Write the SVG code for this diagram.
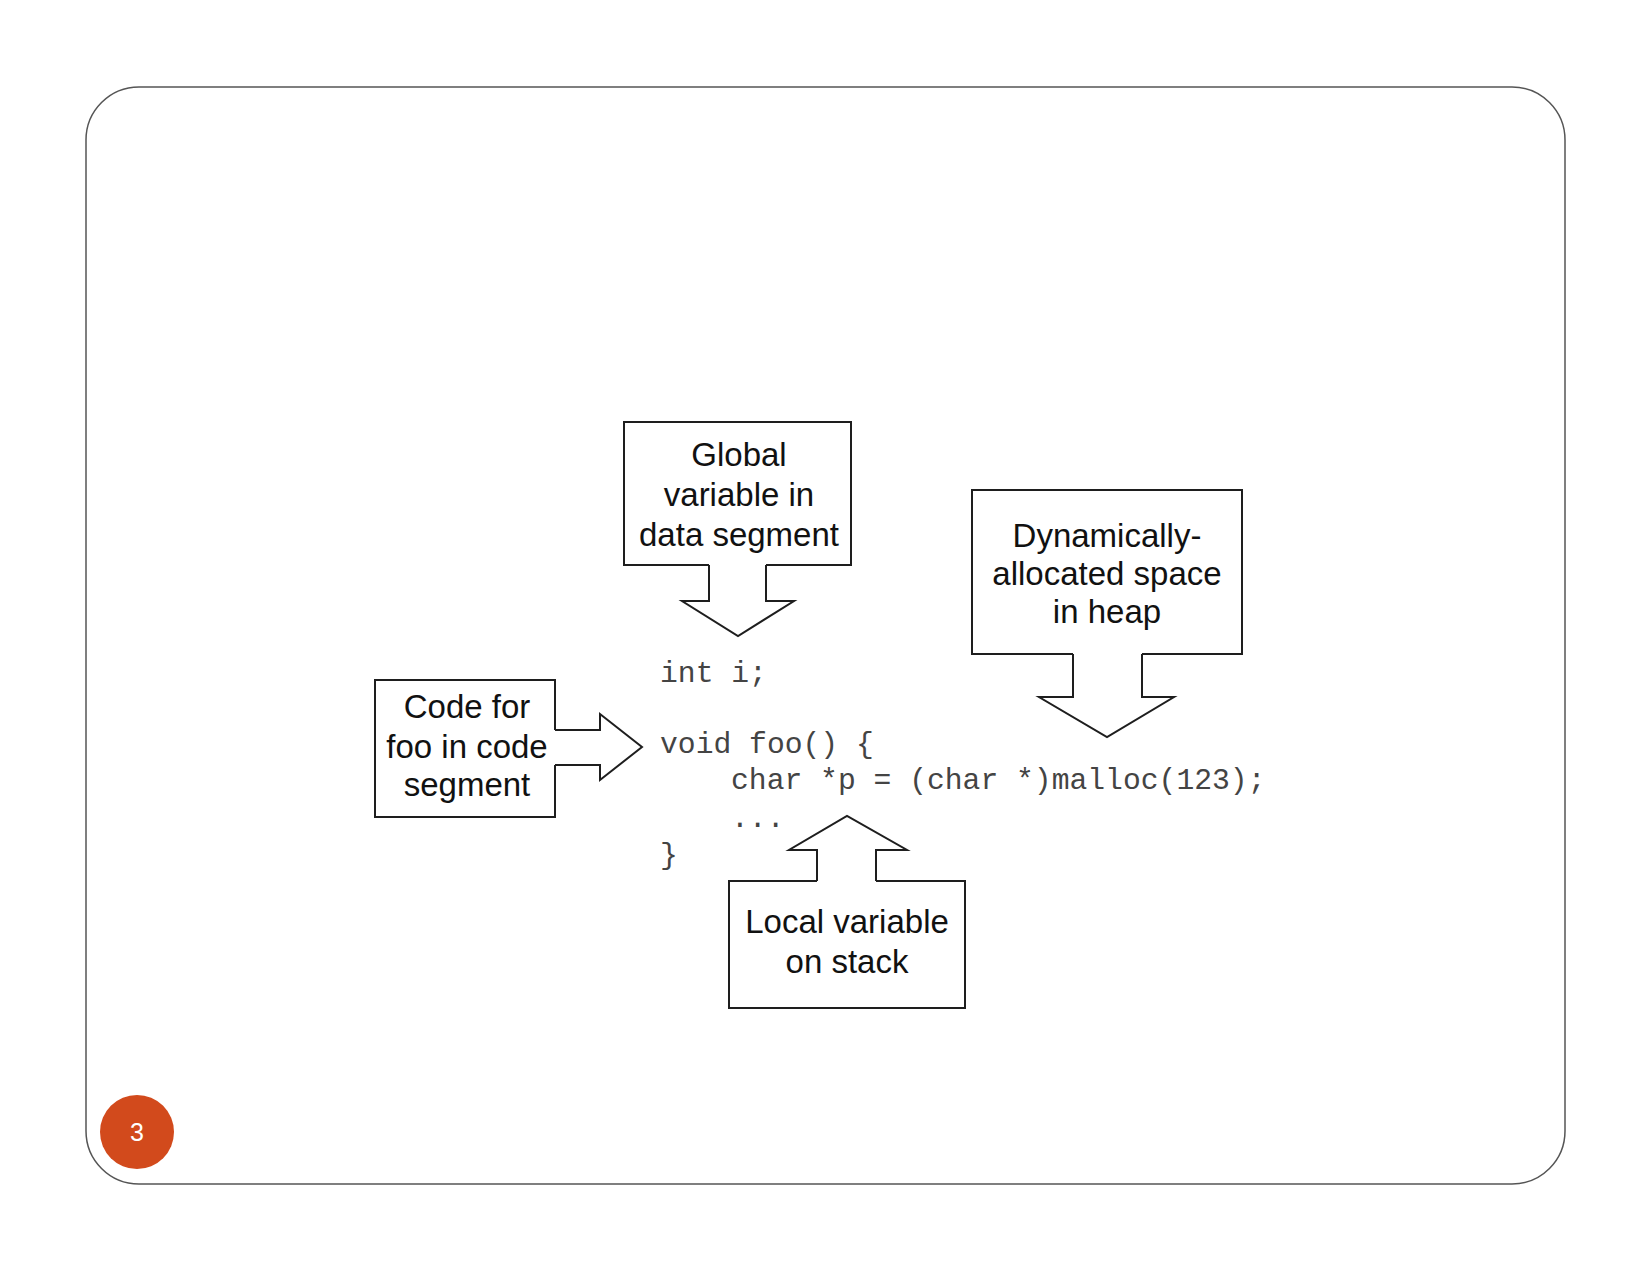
<svg xmlns="http://www.w3.org/2000/svg" width="1649" height="1274" viewBox="0 0 1649 1274">
<style>
.box{fill:none;stroke:#1e1e1e;stroke-width:2;stroke-linejoin:miter}
.arrow{fill:none;stroke:#1e1e1e;stroke-width:2;stroke-linejoin:miter}
.lbl{font-family:"Liberation Sans",Arial,sans-serif;font-size:33px;fill:#111;text-anchor:middle}
.code{font-family:"Liberation Mono","Courier New",monospace;font-size:29.7px;fill:#444}
</style>
<rect x="0" y="0" width="1649" height="1274" fill="#ffffff"/>
<rect id="frame" x="86" y="87" width="1479" height="1097" rx="53" ry="53" fill="none" stroke="#555" stroke-width="1.5"/>

<g id="code">
<text class="code" x="660" y="682">int i;</text>
<text class="code" x="660" y="753">void foo() {</text>
<text class="code" x="731" y="789">char *p = (char *)malloc(123);</text>
<text class="code" x="731" y="827">...</text>
<text class="code" x="660" y="864">}</text>
</g>

<g id="node-global">
<path class="box" d="M709,565 L624,565 L624,422 L851,422 L851,565 L766,565"/>
<text class="lbl" x="739" y="466">Global</text>
<text class="lbl" x="739" y="506">variable in</text>
<text class="lbl" x="739" y="546">data segment</text>
</g>

<g id="node-code">
<path class="box" d="M555,730 L555,680 L375,680 L375,817 L555,817 L555,765"/>
<text class="lbl" x="467" y="718">Code for</text>
<text class="lbl" x="467" y="758">foo in code</text>
<text class="lbl" x="467" y="796">segment</text>
</g>

<g id="node-heap">
<path class="box" d="M1073,654 L972,654 L972,490 L1242,490 L1242,654 L1142,654"/>
<text class="lbl" x="1107" y="547">Dynamically-</text>
<text class="lbl" x="1107" y="585">allocated space</text>
<text class="lbl" x="1107" y="623">in heap</text>
</g>

<g id="node-local">
<path class="box" d="M817,881 L729,881 L729,1008 L965,1008 L965,881 L876,881"/>
<text class="lbl" x="847" y="933">Local variable</text>
<text class="lbl" x="847" y="973">on stack</text>
</g>

<g id="connectors">
<path class="arrow" d="M709,565 L709,601 L682,601 L738,636 L794,601 L766,601 L766,565"/>
<path class="arrow" d="M555,730 L600,730 L600,714 L642,747 L600,780 L600,765 L555,765"/>
<path class="arrow" d="M1073,654 L1073,697 L1039,697 L1107,737 L1174,697 L1142,697 L1142,654"/>
<path class="arrow" d="M817,881 L817,850 L789,850 L847,816 L907,850 L876,850 L876,881"/>
</g>

<g id="page-number">
<circle cx="137" cy="1132" r="37" fill="#d24a1c"/>
<text x="137" y="1141" font-family="'Liberation Sans',Arial,sans-serif" font-size="25" fill="#ffffff" text-anchor="middle">3</text>
</g>
</svg>
